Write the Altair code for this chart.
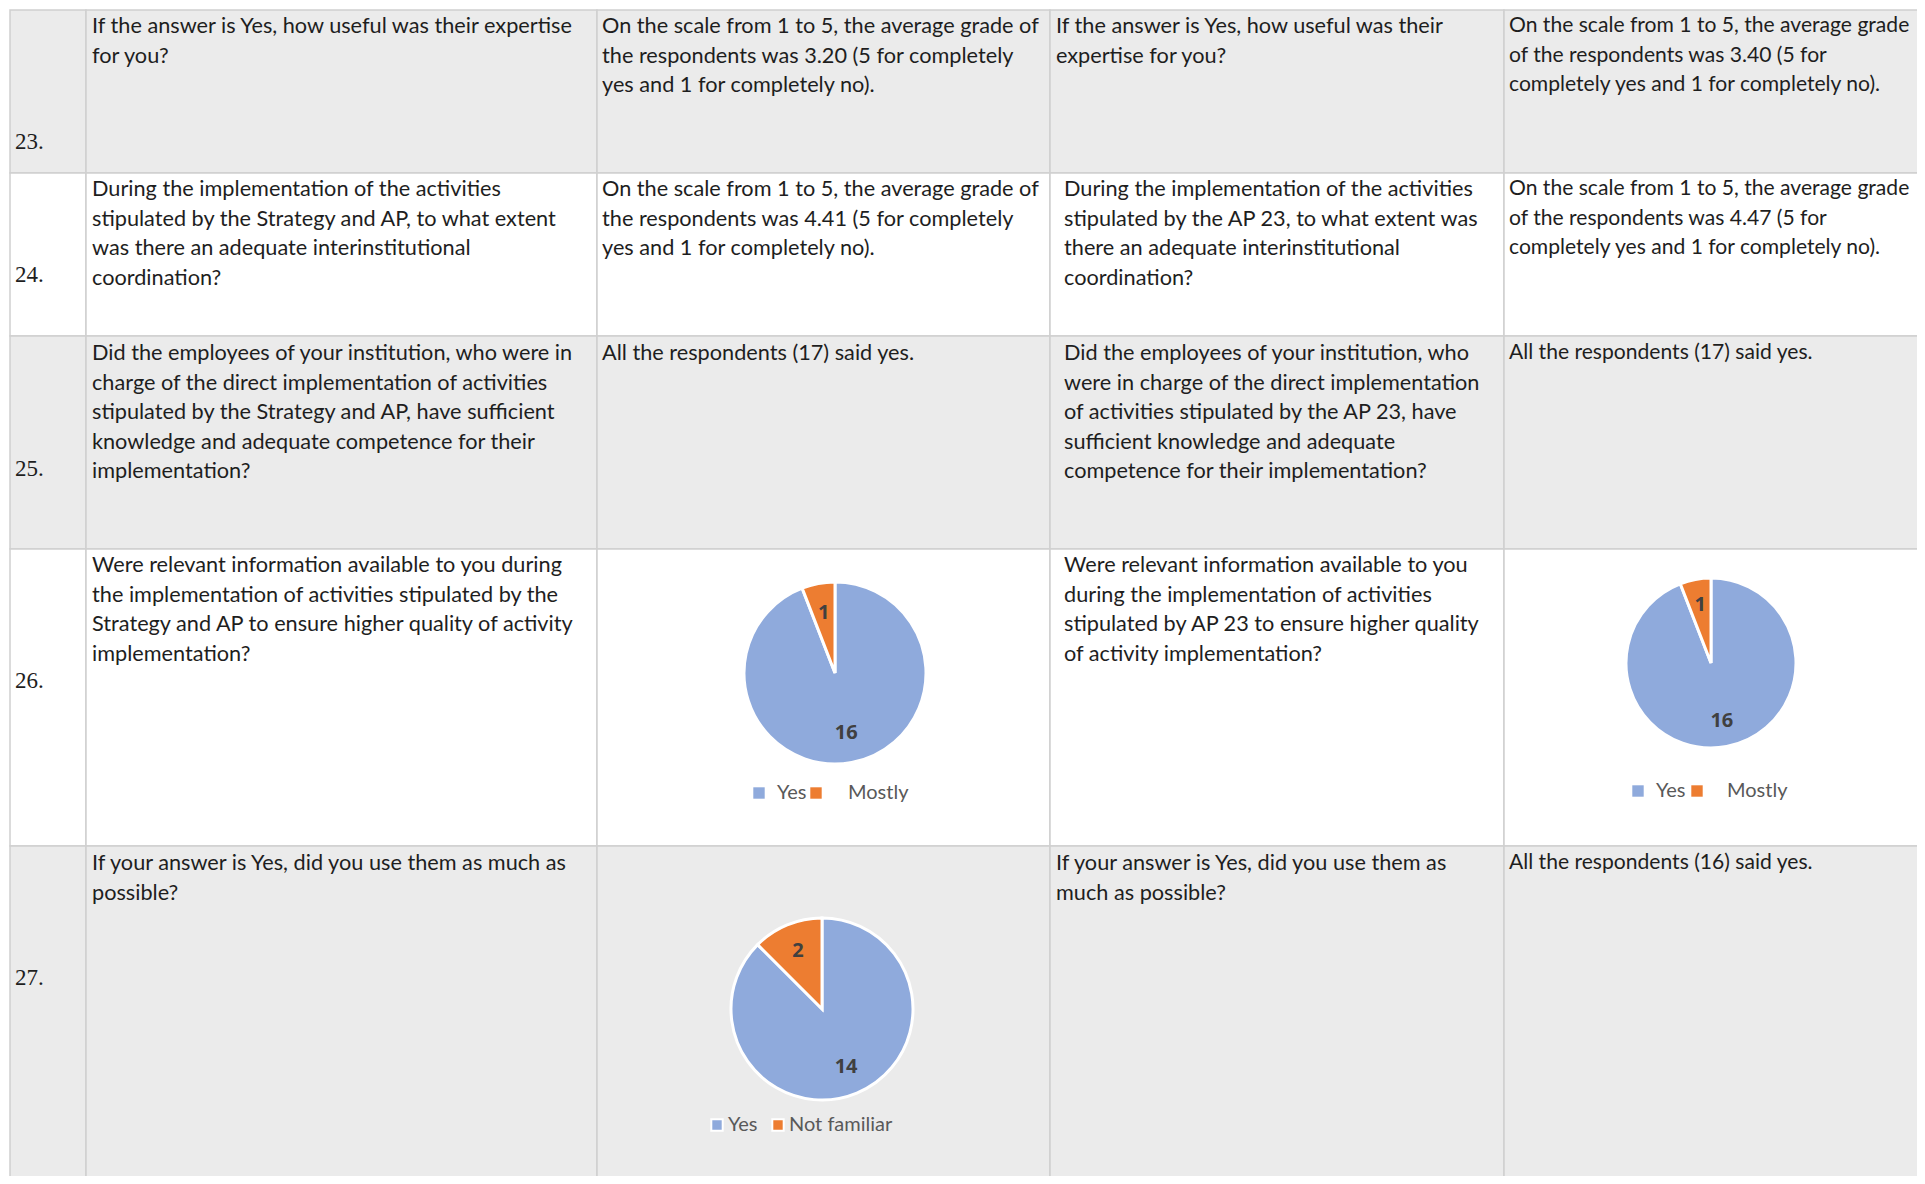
import altair as alt
import pandas as pd

# ---------------- data ----------------
row_numbers = ["23.", "24.", "25.", "26.", "27."]

cell_text = {
    (0, 1): ["If the answer is Yes, how useful was their expertise", "for you?"],
    (0, 2): ["On the scale from 1 to 5, the average grade of", "the respondents was 3.20 (5 for completely",
             "yes and 1 for completely no)."],
    (0, 3): ["If the answer is Yes, how useful was their", "expertise for you?"],
    (0, 4): ["On the scale from 1 to 5, the average grade", "of the respondents was 3.40 (5 for",
             "completely yes and 1 for completely no)."],
    (1, 1): ["During the implementation of the activities", "stipulated by the Strategy and AP, to what extent",
             "was there an adequate interinstitutional", "coordination?"],
    (1, 2): ["On the scale from 1 to 5, the average grade of", "the respondents was 4.41 (5 for completely",
             "yes and 1 for completely no)."],
    (1, 3): ["During the implementation of the activities", "stipulated by the AP 23, to what extent was",
             "there an adequate interinstitutional", "coordination?"],
    (1, 4): ["On the scale from 1 to 5, the average grade", "of the respondents was 4.47 (5 for",
             "completely yes and 1 for completely no)."],
    (2, 1): ["Did the employees of your institution, who were in", "charge of the direct implementation of activities",
             "stipulated by the Strategy and AP, have sufficient", "knowledge and adequate competence for their",
             "implementation?"],
    (2, 2): ["All the respondents (17) said yes."],
    (2, 3): ["Did the employees of your institution, who", "were in charge of the direct implementation",
             "of activities stipulated by the AP 23, have", "sufficient knowledge and adequate",
             "competence for their implementation?"],
    (2, 4): ["All the respondents (17) said yes."],
    (3, 1): ["Were relevant information available to you during", "the implementation of activities stipulated by the",
             "Strategy and AP to ensure higher quality of activity", "implementation?"],
    (3, 3): ["Were relevant information available to you", "during the implementation of activities",
             "stipulated by AP 23 to ensure higher quality", "of activity implementation?"],
    (4, 1): ["If your answer is Yes, did you use them as much as", "possible?"],
    (4, 3): ["If your answer is Yes, did you use them as", "much as possible?"],
    (4, 4): ["All the respondents (16) said yes."],
}

pie1_cats = ["Yes", "Mostly"]
pie1_vals = [16, 1]
pie2_cats = ["Yes", "Mostly"]
pie2_vals = [16, 1]
pie3_cats = ["Yes", "Not familiar"]
pie3_vals = [14, 2]

color_domain = ["Yes", "Mostly", "Not familiar"]
color_range = ["#8FAADC", "#ED7D31", "#ED7D31"]

# ---------------- layout ----------------
W, H = 1909, 1168
OX, OY = 8, 8
col_edges = [10, 86, 597, 1050, 1504, 1935]
row_edges = [10, 173, 336, 549, 846, 1194]
row_fill = ["#EBEBEB", "#FFFFFF", "#EBEBEB", "#FFFFFF", "#EBEBEB"]
first_line_y = [26, 189, 353, 565, 863]
number_y = [142, 275, 469, 681, 978]
line_h = 29.5
col_text_x = {1: 92, 2: 602, 3: 1064, 4: 1509}
col_text_x_alt = {0: 1056, 4: 1056}  # rows where column 4 text is not indented
col_font_size = {1: 21.7, 2: 21.7, 3: 21.7, 4: 21.1}
BODY_FONT = "Lato"

xs = alt.Scale(domain=[OX, OX + W], range=[0, W])
ys = alt.Scale(domain=[OY, OY + H], range=[0, H])
X = lambda f: alt.X(f, type="quantitative", scale=xs, axis=None)
Y = lambda f: alt.Y(f, type="quantitative", scale=ys, axis=None)

# cells
cells = []
for r in range(5):
    for c in range(5):
        cells.append(dict(x=col_edges[c], x2=col_edges[c + 1],
                          y=row_edges[r], y2=row_edges[r + 1], fill=row_fill[r]))
cells_df = pd.DataFrame(cells)
cells_layer = alt.Chart(cells_df).mark_rect(stroke="#D0D0D0", strokeWidth=1.5).encode(
    x=X("x"), x2="x2", y=Y("y"), y2="y2", fill=alt.Fill("fill:N", scale=None))

# text lines
lines = []
for (r, c), txt in cell_text.items():
    x0 = col_text_x[c]
    if c == 3 and r in col_text_x_alt:
        x0 = col_text_x_alt[r]
    for i, t in enumerate(txt):
        lines.append(dict(x=x0, y=first_line_y[r] + i * line_h, t=t, fs=col_font_size[c]))
lines_df = pd.DataFrame(lines)
text_layer = alt.Chart(lines_df).mark_text(
    align="left", baseline="middle", font=BODY_FONT, color="#1E1E1E"
).encode(x=X("x"), y=Y("y"), text="t:N", size=alt.Size("fs:Q", scale=None, legend=None))

num_df = pd.DataFrame(dict(x=[15] * 5, y=number_y, t=row_numbers))
num_layer = alt.Chart(num_df).mark_text(
    align="left", baseline="middle", font="Liberation Serif", fontSize=23, color="#1E1E1E"
).encode(x=X("x"), y=Y("y"), text="t:N")

color = alt.Color("cat:N", scale=alt.Scale(domain=color_domain, range=color_range), legend=None)


def pie(cats, vals, cx, cy, r, lr):
    df = pd.DataFrame(dict(cat=cats, val=vals, idx=list(range(len(cats))), cx=cx, cy=cy))
    base = alt.Chart(df).encode(
        x=X("cx"), y=Y("cy"),
        theta=alt.Theta("val:Q", stack=True),
        order=alt.Order("idx:Q", sort="ascending"),
    )
    arc = base.mark_arc(outerRadius=r, stroke="white", strokeWidth=3).encode(color=color)
    lab = base.mark_text(radius=lr, fontSize=20, fontWeight="bold", color="#404040",
                         font="Open Sans").encode(text="val:Q", detail="cat:N")
    return alt.layer(arc, lab)


def legend(cats, xs_sq, xs_txt, y, size, stroke):
    df = pd.DataFrame(dict(cat=cats, x=xs_sq, xt=xs_txt, y=y))
    sq = alt.Chart(df).mark_square(size=130, filled=True, opacity=1, stroke="white",
                                   strokeWidth=stroke).encode(x=X("x"), y=Y("y"), color=color)
    tx = alt.Chart(df).mark_text(align="left", baseline="middle", fontSize=size, color="#595959",
                                 font=BODY_FONT).encode(x=X("xt"), y=Y("y"), text="cat:N")
    return alt.layer(sq, tx)


p1 = pie(pie1_cats, pie1_vals, 835, 673, 91, 61)
p2 = pie(pie2_cats, pie2_vals, 1711, 663, 85, 59)
p3 = pie(pie3_cats, pie3_vals, 822, 1009, 91, 63)
l1 = legend(pie1_cats, [759, 816], [777, 848], 793, 20, 0)
l2 = legend(pie2_cats, [1638, 1697], [1656, 1727], 791, 20, 0)
l3 = legend(pie3_cats, [717, 778], [728, 789], 1125, 20, 2)

chart = alt.layer(cells_layer, text_layer, num_layer, p1, p2, p3, l1, l2, l3).resolve_scale(
    theta="independent"
).properties(
    width=W, height=H, padding=0, autosize=alt.AutoSizeParams(type="none"), background="white"
).configure_view(stroke=None)

chart.save("out.html", embed_options={"renderer": "svg", "actions": False})
